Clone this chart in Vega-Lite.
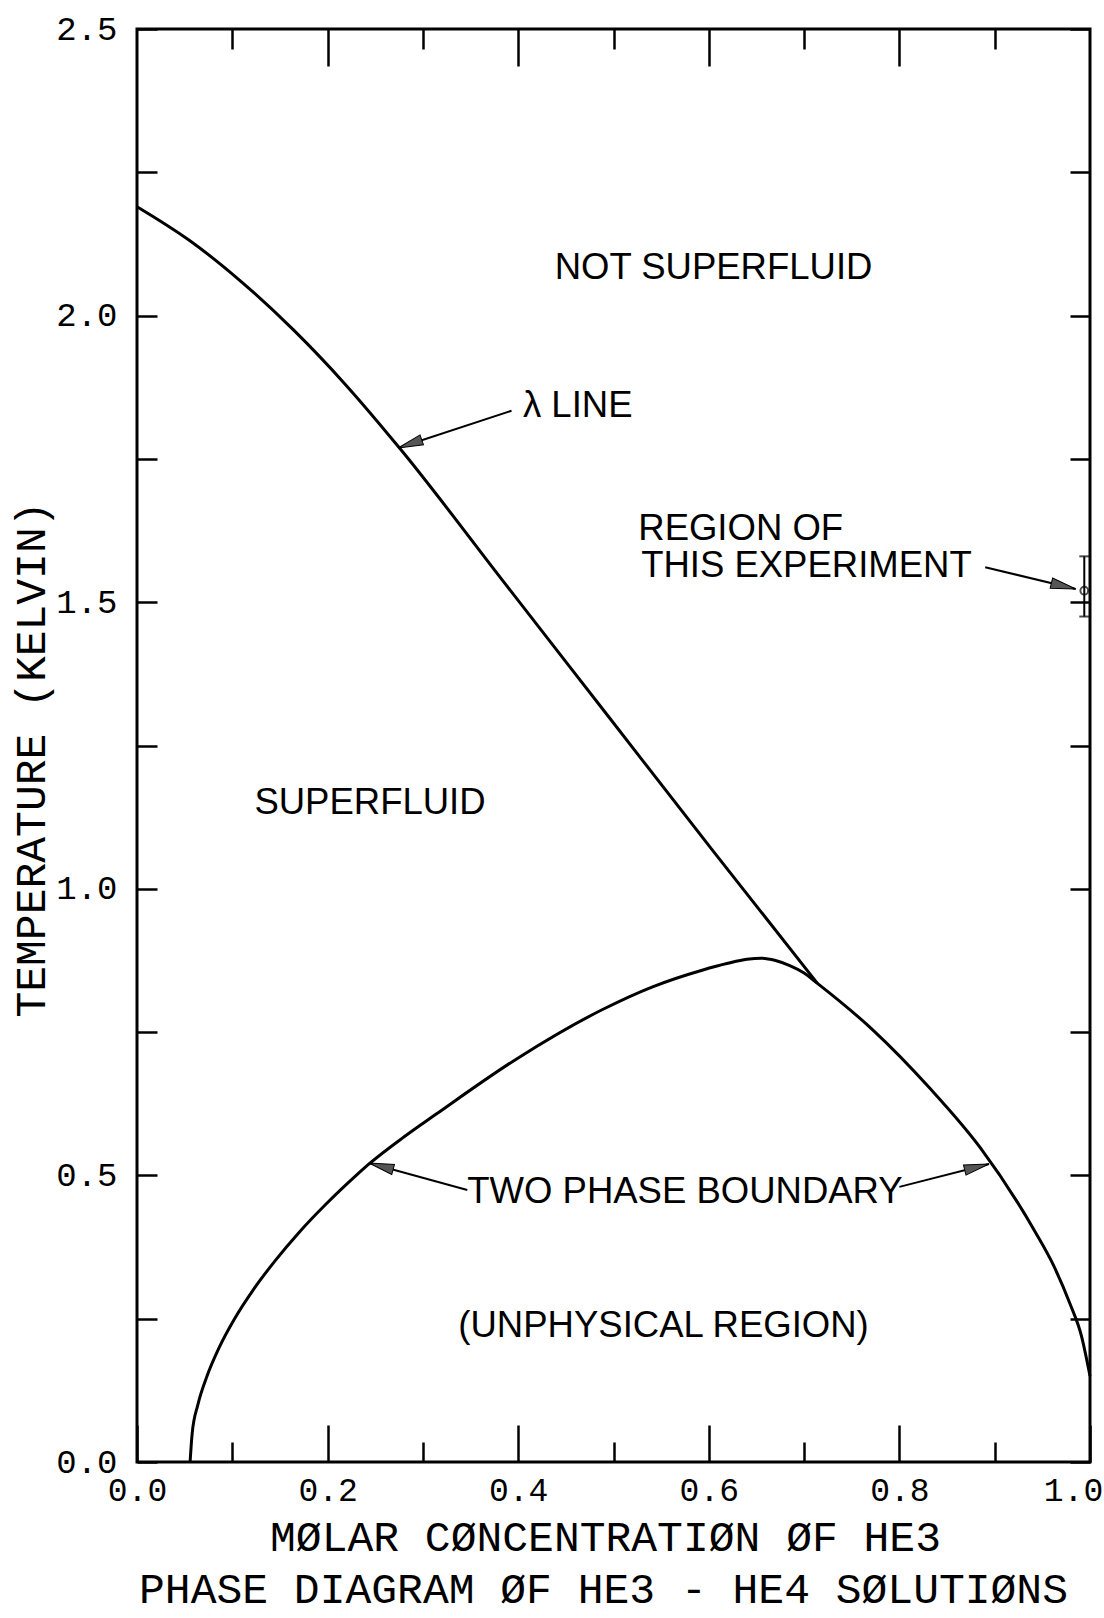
{
  "$schema": "https://vega.github.io/schema/vega-lite/v6.json",
  "width": 953,
  "height": 1433,
  "autosize": {"type": "none"},
  "padding": {"left": 137, "top": 29, "right": 14, "bottom": 156},
  "background": "white",
  "config": {
    "view": {"stroke": "black", "strokeWidth": 3},
    "axis": {
      "domain": false,
      "grid": false,
      "tickColor": "black",
      "tickWidth": 2.5,
      "labelColor": "black",
      "labelFont": "Liberation Mono",
      "labelFontSize": 34,
      "titleFont": "Liberation Mono",
      "titleFontSize": 43,
      "titleFontWeight": "normal",
      "titleColor": "black",
      "labelFlush": false,
      "labelOverlap": false
    }
  },
  "title": {
    "text": "PHASE DIAGRAM ØF HE3 - HE4 SØLUTIØNS",
    "orient": "bottom",
    "anchor": "middle",
    "font": "Liberation Mono",
    "fontSize": 43,
    "fontWeight": "normal",
    "color": "black",
    "offset": 10,
    "dx": -10
  },
  "datasets": {
    "lambda": [
      {"x": 0.0, "T": 2.19},
      {"x": 0.0552, "T": 2.131},
      {"x": 0.1096, "T": 2.059},
      {"x": 0.1642, "T": 1.975},
      {"x": 0.2186, "T": 1.88},
      {"x": 0.2755, "T": 1.769},
      {"x": 0.385, "T": 1.535},
      {"x": 0.4945, "T": 1.301},
      {"x": 0.604, "T": 1.067},
      {"x": 0.714, "T": 0.835}
    ],
    "twophase": [
      {"x": 0.0557, "T": 0.0},
      {"x": 0.0579, "T": 0.05},
      {"x": 0.0639, "T": 0.1},
      {"x": 0.0735, "T": 0.15},
      {"x": 0.0863, "T": 0.2},
      {"x": 0.1024, "T": 0.25},
      {"x": 0.1218, "T": 0.3},
      {"x": 0.1444, "T": 0.35},
      {"x": 0.1698, "T": 0.4},
      {"x": 0.1984, "T": 0.45},
      {"x": 0.23, "T": 0.5},
      {"x": 0.2435, "T": 0.52},
      {"x": 0.28, "T": 0.567},
      {"x": 0.314, "T": 0.607},
      {"x": 0.4, "T": 0.705},
      {"x": 0.488, "T": 0.789},
      {"x": 0.541, "T": 0.829},
      {"x": 0.593, "T": 0.858},
      {"x": 0.62, "T": 0.87},
      {"x": 0.64, "T": 0.877},
      {"x": 0.655, "T": 0.879},
      {"x": 0.67, "T": 0.875},
      {"x": 0.685, "T": 0.866},
      {"x": 0.7, "T": 0.853},
      {"x": 0.714, "T": 0.835},
      {"x": 0.772, "T": 0.754},
      {"x": 0.832, "T": 0.652},
      {"x": 0.885, "T": 0.548},
      {"x": 0.943, "T": 0.4},
      {"x": 0.962, "T": 0.342},
      {"x": 0.979, "T": 0.276},
      {"x": 0.991, "T": 0.22},
      {"x": 1.0, "T": 0.15}
    ],
    "experiment": [
      {"x": 0.994, "T": 1.52, "lo": 1.475, "hi": 1.58}
    ],
    "arrows": [
      {"arrow": "lambda", "end": "start", "x": 0.393, "T": 1.834},
      {"arrow": "lambda", "end": "tip", "x": 0.274, "T": 1.769},
      {"arrow": "tpleft", "end": "start", "x": 0.3466, "T": 0.4745},
      {"arrow": "tpleft", "end": "tip", "x": 0.2434, "T": 0.5216},
      {"arrow": "tpright", "end": "start", "x": 0.8, "T": 0.48},
      {"arrow": "tpright", "end": "tip", "x": 0.894, "T": 0.52},
      {"arrow": "exp", "end": "start", "x": 0.89, "T": 1.561},
      {"arrow": "exp", "end": "tip", "x": 0.985, "T": 1.523}
    ],
    "centerlabels": [
      {"x": 0.605, "T": 2.083, "label": "NOT SUPERFLUID"},
      {"x": 0.2445, "T": 1.15, "label": "SUPERFLUID"},
      {"x": 0.575, "T": 0.471, "label": "TWO PHASE BOUNDARY"},
      {"x": 0.5525, "T": 0.237, "label": "(UNPHYSICAL REGION)"}
    ],
    "leftlabels": [
      {"x": 0.405, "T": 1.842, "label": "λ LINE"},
      {"x": 0.526, "T": 1.628, "label": "REGION OF"},
      {"x": 0.529, "T": 1.563, "label": "THIS EXPERIMENT"}
    ]
  },
  "resolve": {"axis": {"x": "independent", "y": "independent"}},
  "layer": [
    {
      "data": {"name": "lambda"},
      "mark": {"type": "line", "color": "black", "strokeWidth": 3, "interpolate": "monotone"},
      "encoding": {
        "x": {
          "field": "x", "type": "quantitative",
          "scale": {"domain": [0, 1], "nice": false, "zero": false},
          "axis": {
            "orient": "bottom",
            "values": [0, 0.2, 0.4, 0.6, 0.8, 1.0],
            "tickSize": -37,
            "labelPadding": 49,
            "labelFontSize": 33,
            "labelOffset": {"condition": {"test": "datum.value === 1", "value": -17}, "value": 0},
            "format": ".1f",
            "title": "MØLAR CØNCENTRATIØN ØF HE3",
            "titleX": 468,
            "titleY": 88,
            "titleAlign": "center",
            "titleBaseline": "alphabetic"
          }
        },
        "y": {
          "field": "T", "type": "quantitative",
          "scale": {"domain": [0, 2.5], "nice": false, "zero": false},
          "axis": {
            "orient": "left",
            "values": [0, 0.25, 0.5, 0.75, 1.0, 1.25, 1.5, 1.75, 2.0, 2.25, 2.5],
            "tickSize": -20,
            "labelPadding": 40,
            "labelExpr": "abs(datum.value * 2 - round(datum.value * 2)) < 0.001 ? format(datum.value, '.1f') : ''",
            "title": "TEMPERATURE (KELVIN)",
            "titleAngle": -90,
            "titleX": -106,
            "titleY": 730,
            "titleAlign": "center",
            "titleBaseline": "middle"
          }
        }
      }
    },
    {
      "data": {"name": "twophase"},
      "mark": {"type": "line", "color": "black", "strokeWidth": 3, "interpolate": "monotone"},
      "encoding": {
        "x": {
          "field": "x", "type": "quantitative",
          "scale": {"domain": [0, 1], "nice": false, "zero": false},
          "axis": {
            "orient": "bottom",
            "values": [0.1, 0.3, 0.5, 0.7, 0.9],
            "tickSize": -20,
            "labels": false,
            "title": null
          }
        },
        "y": {
          "field": "T", "type": "quantitative",
          "scale": {"domain": [0, 2.5], "nice": false, "zero": false},
          "axis": {
            "orient": "right",
            "values": [0, 0.25, 0.5, 0.75, 1.0, 1.25, 1.5, 1.75, 2.0, 2.25, 2.5],
            "tickSize": -20,
            "labels": false,
            "title": null
          }
        }
      }
    },
    {
      "data": {"name": "experiment"},
      "mark": {"type": "rule", "color": "black", "strokeWidth": 2},
      "encoding": {
        "x": {
          "field": "x", "type": "quantitative",
          "scale": {"domain": [0, 1], "nice": false, "zero": false},
          "axis": {
            "orient": "top",
            "values": [0.2, 0.4, 0.6, 0.8],
            "tickSize": -37,
            "labels": false,
            "title": null
          }
        },
        "y": {"field": "lo", "type": "quantitative", "scale": {"domain": [0, 2.5], "nice": false, "zero": false}, "axis": null},
        "y2": {"field": "hi"}
      }
    },
    {
      "data": {"name": "experiment"},
      "mark": {"type": "point", "shape": "circle", "filled": false, "color": "black", "strokeWidth": 2, "size": 60},
      "encoding": {
        "x": {
          "field": "x", "type": "quantitative",
          "scale": {"domain": [0, 1], "nice": false, "zero": false},
          "axis": {
            "orient": "top",
            "values": [0.1, 0.3, 0.5, 0.7, 0.9],
            "tickSize": -20,
            "labels": false,
            "title": null
          }
        },
        "y": {"field": "T", "type": "quantitative", "scale": {"domain": [0, 2.5], "nice": false, "zero": false}, "axis": null}
      }
    },
    {
      "data": {"name": "experiment"},
      "mark": {"type": "tick", "orient": "horizontal", "color": "black", "thickness": 2, "size": 10},
      "encoding": {
        "x": {"field": "x", "type": "quantitative", "scale": {"domain": [0, 1], "nice": false, "zero": false}, "axis": null},
        "y": {"field": "lo", "type": "quantitative", "scale": {"domain": [0, 2.5], "nice": false, "zero": false}, "axis": null}
      }
    },
    {
      "data": {"name": "experiment"},
      "mark": {"type": "tick", "orient": "horizontal", "color": "black", "thickness": 2, "size": 10},
      "encoding": {
        "x": {"field": "x", "type": "quantitative", "scale": {"domain": [0, 1], "nice": false, "zero": false}, "axis": null},
        "y": {"field": "hi", "type": "quantitative", "scale": {"domain": [0, 2.5], "nice": false, "zero": false}, "axis": null}
      }
    },
    {
      "data": {"name": "arrows"},
      "mark": {"type": "line", "color": "black", "strokeWidth": 2},
      "encoding": {
        "x": {"field": "x", "type": "quantitative", "scale": {"domain": [0, 1], "nice": false, "zero": false}, "axis": null},
        "y": {"field": "T", "type": "quantitative", "scale": {"domain": [0, 2.5], "nice": false, "zero": false}, "axis": null},
        "detail": {"field": "arrow", "type": "nominal"}
      }
    },
    {
      "data": {"name": "arrows"},
      "transform": [{"filter": "datum.arrow === 'lambda' && datum.end === 'tip'"}],
      "mark": {"type": "point", "shape": "M0,0L-2,-0.42L-2,0.42Z", "filled": true, "fill": "#555555", "stroke": "black", "strokeWidth": 1, "size": 625, "opacity": 1, "angle": 161},
      "encoding": {
        "x": {"field": "x", "type": "quantitative", "scale": {"domain": [0, 1], "nice": false, "zero": false}, "axis": null},
        "y": {"field": "T", "type": "quantitative", "scale": {"domain": [0, 2.5], "nice": false, "zero": false}, "axis": null}
      }
    },
    {
      "data": {"name": "arrows"},
      "transform": [{"filter": "datum.arrow === 'tpleft' && datum.end === 'tip'"}],
      "mark": {"type": "point", "shape": "M0,0L-2,-0.42L-2,0.42Z", "filled": true, "fill": "#555555", "stroke": "black", "strokeWidth": 1, "size": 625, "opacity": 1, "angle": 195},
      "encoding": {
        "x": {"field": "x", "type": "quantitative", "scale": {"domain": [0, 1], "nice": false, "zero": false}, "axis": null},
        "y": {"field": "T", "type": "quantitative", "scale": {"domain": [0, 2.5], "nice": false, "zero": false}, "axis": null}
      }
    },
    {
      "data": {"name": "arrows"},
      "transform": [{"filter": "datum.arrow === 'tpright' && datum.end === 'tip'"}],
      "mark": {"type": "point", "shape": "M0,0L-2,-0.42L-2,0.42Z", "filled": true, "fill": "#555555", "stroke": "black", "strokeWidth": 1, "size": 625, "opacity": 1, "angle": 346},
      "encoding": {
        "x": {"field": "x", "type": "quantitative", "scale": {"domain": [0, 1], "nice": false, "zero": false}, "axis": null},
        "y": {"field": "T", "type": "quantitative", "scale": {"domain": [0, 2.5], "nice": false, "zero": false}, "axis": null}
      }
    },
    {
      "data": {"name": "arrows"},
      "transform": [{"filter": "datum.arrow === 'exp' && datum.end === 'tip'"}],
      "mark": {"type": "point", "shape": "M0,0L-2,-0.42L-2,0.42Z", "filled": true, "fill": "#555555", "stroke": "black", "strokeWidth": 1, "size": 625, "opacity": 1, "angle": 13.5},
      "encoding": {
        "x": {"field": "x", "type": "quantitative", "scale": {"domain": [0, 1], "nice": false, "zero": false}, "axis": null},
        "y": {"field": "T", "type": "quantitative", "scale": {"domain": [0, 2.5], "nice": false, "zero": false}, "axis": null}
      }
    },
    {
      "data": {"name": "centerlabels"},
      "mark": {"type": "text", "font": "Liberation Sans", "fontSize": 36.5, "color": "black", "align": "center", "baseline": "middle"},
      "encoding": {
        "x": {"field": "x", "type": "quantitative", "scale": {"domain": [0, 1], "nice": false, "zero": false}, "axis": null},
        "y": {"field": "T", "type": "quantitative", "scale": {"domain": [0, 2.5], "nice": false, "zero": false}, "axis": null},
        "text": {"field": "label", "type": "nominal"}
      }
    },
    {
      "data": {"name": "leftlabels"},
      "mark": {"type": "text", "font": "Liberation Sans", "fontSize": 36.5, "color": "black", "align": "left", "baseline": "middle"},
      "encoding": {
        "x": {"field": "x", "type": "quantitative", "scale": {"domain": [0, 1], "nice": false, "zero": false}, "axis": null},
        "y": {"field": "T", "type": "quantitative", "scale": {"domain": [0, 2.5], "nice": false, "zero": false}, "axis": null},
        "text": {"field": "label", "type": "nominal"}
      }
    }
  ]
}
